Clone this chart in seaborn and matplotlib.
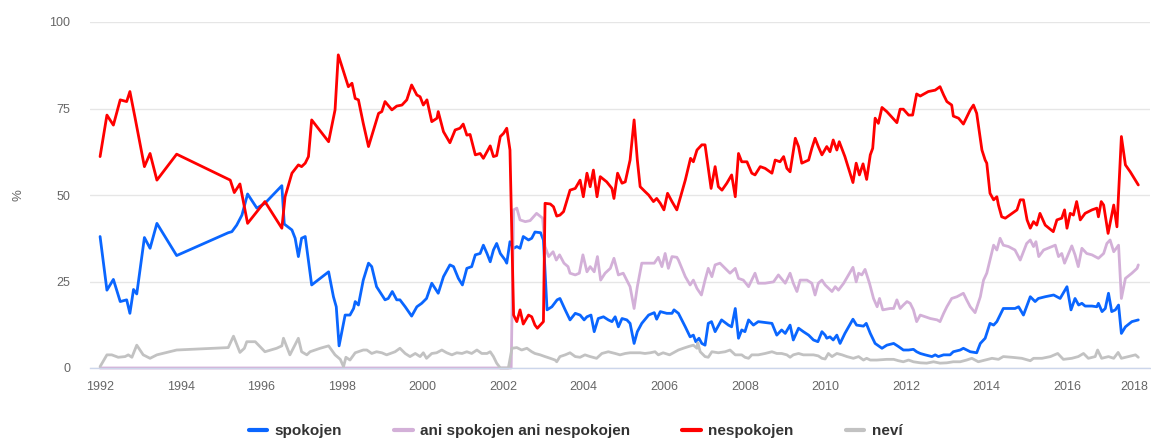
import matplotlib
matplotlib.use("Agg")
import matplotlib.pyplot as plt
import pandas as pd
import seaborn as sns

# ---------------- data (decimal years, %) ----------------
spokojen_x = [1992.00, 1992.17, 1992.33, 1992.50, 1992.66, 1992.74, 1992.83, 1992.91, 1993.10, 1993.24,
              1993.41, 1993.90, 1995.18, 1995.27, 1995.39, 1995.52, 1995.66, 1995.89, 1996.09, 1996.51,
              1996.57, 1996.76, 1996.84, 1996.92, 1997.00, 1997.09, 1997.25, 1997.67, 1997.79, 1997.86,
              1997.93, 1998.08, 1998.20, 1998.29, 1998.33, 1998.41, 1998.53, 1998.66, 1998.74, 1998.86,
              1999.07, 1999.15, 1999.25, 1999.36, 1999.44, 1999.57, 1999.73, 1999.86, 1999.98, 2000.10,
              2000.23, 2000.39, 2000.52, 2000.68, 2000.77, 2000.89, 2000.99, 2001.10, 2001.22, 2001.31,
              2001.43, 2001.51, 2001.60, 2001.68, 2001.76, 2001.84, 2001.93, 2002.05, 2002.09, 2002.17,
              2002.26, 2002.34, 2002.42, 2002.50, 2002.63, 2002.71, 2002.79, 2002.93, 2003.00, 2003.09,
              2003.21, 2003.34, 2003.41, 2003.54, 2003.66, 2003.79, 2003.91, 2004.01, 2004.08, 2004.18,
              2004.26, 2004.36, 2004.49, 2004.61, 2004.70, 2004.78, 2004.86, 2004.95, 2005.07, 2005.15,
              2005.25, 2005.33, 2005.44, 2005.61, 2005.75, 2005.81, 2005.90, 2006.06, 2006.19, 2006.24,
              2006.35, 2006.52, 2006.64, 2006.72, 2006.78, 2006.86, 2006.93, 2007.01, 2007.09, 2007.17,
              2007.26, 2007.42, 2007.59, 2007.67, 2007.76, 2007.84, 2007.92, 2008.00, 2008.09, 2008.21,
              2008.33, 2008.67, 2008.79, 2008.91, 2009.00, 2009.12, 2009.20, 2009.33, 2009.45, 2009.58,
              2009.70, 2009.81, 2009.91, 2009.99, 2010.03, 2010.11, 2010.19, 2010.28, 2010.36, 2010.48,
              2010.68, 2010.77, 2010.94, 2011.01, 2011.11, 2011.23, 2011.40, 2011.52, 2011.69, 2011.81,
              2011.93, 2012.06, 2012.18, 2012.26, 2012.35, 2012.47, 2012.64, 2012.72, 2012.80, 2012.93,
              2013.09, 2013.17, 2013.34, 2013.42, 2013.59, 2013.75, 2013.84, 2013.92, 2013.96, 2014.08,
              2014.17, 2014.25, 2014.41, 2014.54, 2014.70, 2014.79, 2014.91, 2015.08, 2015.20, 2015.28,
              2015.45, 2015.66, 2015.82, 2015.99, 2016.09, 2016.19, 2016.28, 2016.36, 2016.44, 2016.61,
              2016.73, 2016.77, 2016.86, 2016.94, 2017.02, 2017.10, 2017.19, 2017.27, 2017.34, 2017.44,
              2017.60, 2017.76]
spokojen_y = [38.0, 22.5, 25.6, 19.2, 19.7, 15.8, 22.7, 21.4, 37.7, 34.6,
              41.8, 32.5, 39.1, 39.4, 41.3, 44.2, 50.3, 46.2, 47.6, 52.7,
              41.6, 39.9, 37.5, 32.2, 37.5, 38.0, 24.0, 27.8, 20.6, 17.7,
              6.4, 15.3, 15.3, 17.2, 19.2, 18.2, 25.4, 30.3, 29.3, 23.5,
              19.7, 20.1, 22.1, 19.7, 19.7, 17.7, 15.0, 17.7, 18.7, 20.1,
              24.5, 21.6, 26.4, 29.8, 29.3, 25.9, 24.0, 28.8, 29.3, 32.7,
              33.1, 35.5, 33.1, 30.7, 34.1, 36.0, 33.1, 31.2, 30.3, 36.5,
              34.6, 35.1, 34.6, 38.0, 37.0, 37.5, 39.3, 39.1, 37.0, 16.8,
              17.7, 19.7, 20.1, 16.8, 13.9, 15.8, 15.3, 13.9, 14.8, 15.3,
              10.5, 14.3, 14.8, 13.9, 13.4, 14.8, 11.9, 14.3, 13.9, 12.9,
              7.1, 10.5, 12.9, 15.3, 16.0, 14.1, 16.3, 15.8, 15.8, 16.8,
              15.8, 11.9, 9.0, 9.5, 7.6, 8.6, 7.1, 6.6, 12.9, 13.4,
              10.5, 13.9, 12.4, 11.9, 17.2, 8.6, 11.0, 10.5, 13.9, 12.4,
              13.4, 12.9, 9.5, 11.0, 10.0, 12.4, 8.1, 11.5, 10.5, 9.5,
              8.1, 7.6, 10.5, 9.5, 8.6, 9.0, 8.1, 9.5, 7.1, 10.0,
              14.1, 12.4, 12.1, 12.9, 10.0, 7.1, 5.7, 6.6, 7.1, 6.2,
              5.2, 5.2, 5.4, 4.7, 4.2, 3.8, 3.3, 3.8, 3.3, 3.8,
              3.8, 4.7, 5.2, 5.7, 4.7, 4.4, 7.1, 8.1, 8.6, 12.9,
              12.4, 13.4, 17.2, 17.2, 17.2, 17.7, 15.3, 20.6, 19.2, 20.1,
              20.6, 21.1, 20.1, 23.5, 16.8, 20.1, 18.2, 18.7, 17.9, 17.9,
              17.7, 18.7, 16.3, 17.2, 21.6, 16.3, 16.8, 18.2, 10.0, 11.9,
              13.4, 13.9]

ani_x = [1992.00, 2002.20, 2002.26, 2002.34, 2002.42, 2002.55, 2002.67, 2002.83, 2002.98, 2003.04,
         2003.13, 2003.24, 2003.32, 2003.40, 2003.51, 2003.61, 2003.66, 2003.79, 2003.89, 2003.98,
         2004.08, 2004.16, 2004.26, 2004.34, 2004.42, 2004.53, 2004.66, 2004.75, 2004.86, 2004.98,
         2005.15, 2005.25, 2005.33, 2005.44, 2005.61, 2005.75, 2005.85, 2005.94, 2006.02, 2006.10,
         2006.19, 2006.31, 2006.35, 2006.52, 2006.64, 2006.72, 2006.81, 2006.92, 2007.01, 2007.09,
         2007.18, 2007.26, 2007.38, 2007.51, 2007.63, 2007.76, 2007.84, 2007.96, 2008.09, 2008.25,
         2008.33, 2008.50, 2008.71, 2008.83, 2009.00, 2009.12, 2009.20, 2009.29, 2009.37, 2009.54,
         2009.66, 2009.74, 2009.82, 2009.91, 2009.99, 2010.16, 2010.24, 2010.32, 2010.45, 2010.57,
         2010.68, 2010.76, 2010.82, 2010.90, 2010.98, 2011.09, 2011.19, 2011.28, 2011.34, 2011.42,
         2011.60, 2011.69, 2011.77, 2011.85, 2011.93, 2012.02, 2012.10, 2012.18, 2012.26, 2012.35,
         2012.60, 2012.77, 2012.84, 2012.93, 2013.01, 2013.13, 2013.26, 2013.42, 2013.50, 2013.59,
         2013.71, 2013.84, 2013.92, 2014.00, 2014.08, 2014.17, 2014.25, 2014.33, 2014.41, 2014.54,
         2014.70, 2014.83, 2014.99, 2015.08, 2015.16, 2015.22, 2015.29, 2015.41, 2015.62, 2015.70,
         2015.78, 2015.86, 2015.93, 2016.03, 2016.11, 2016.19, 2016.27, 2016.36, 2016.48, 2016.61,
         2016.77, 2016.90, 2016.98, 2017.06, 2017.15, 2017.27, 2017.34, 2017.44, 2017.60, 2017.73,
         2017.76]
ani_y = [0.0, 0.0, 45.7, 46.2, 42.8, 42.3, 42.6, 44.7, 43.3, 35.1,
         32.2, 33.6, 31.2, 32.7, 30.3, 29.3, 27.4, 26.9, 27.4, 32.7,
         27.8, 29.3, 27.8, 32.2, 25.4, 27.4, 28.8, 31.7, 26.9, 27.4,
         23.5, 17.2, 23.5, 30.3, 30.3, 30.3, 32.0, 29.3, 33.1, 28.8,
         32.2, 32.0, 31.2, 26.4, 24.0, 25.4, 23.0, 21.1, 25.4, 28.8,
         26.4, 29.8, 30.3, 28.8, 27.4, 28.8, 25.9, 25.4, 23.5, 27.4,
         24.5, 24.5, 24.9, 26.9, 24.5, 27.4, 24.5, 22.1, 25.4, 25.4,
         24.5, 21.1, 24.5, 25.4, 24.0, 22.1, 23.5, 22.5, 24.5, 26.9,
         29.1, 24.9, 27.4, 26.9, 28.5, 24.5, 20.1, 17.7, 20.1, 16.8,
         17.2, 17.2, 19.7, 17.2, 18.2, 19.2, 18.7, 16.8, 13.4, 15.3,
         14.3, 13.9, 13.4, 15.8, 17.7, 20.1, 20.6, 21.6, 19.7, 17.7,
         16.0, 20.6, 25.4, 27.4, 31.2, 35.5, 34.1, 37.5, 35.5, 35.1,
         34.1, 31.2, 36.0, 37.0, 35.1, 36.5, 32.2, 34.1, 35.1, 35.5,
         32.2, 33.1, 30.3, 33.1, 35.3, 32.7, 29.3, 34.6, 33.1, 32.7,
         31.7, 33.1, 36.0, 37.0, 33.6, 35.5, 20.1, 25.9, 27.4, 28.8,
         29.8]

nespokojen_x = [1992.00, 1992.17, 1992.33, 1992.50, 1992.66, 1992.74, 1992.87, 1993.10, 1993.24, 1993.41,
                1993.90, 1995.23, 1995.33, 1995.47, 1995.66, 1996.09, 1996.51, 1996.59, 1996.76, 1996.92,
                1997.00, 1997.09, 1997.17, 1997.25, 1997.67, 1997.83, 1997.91, 1998.16, 1998.25, 1998.33,
                1998.41, 1998.53, 1998.66, 1998.91, 1998.99, 1999.07, 1999.24, 1999.36, 1999.49, 1999.61,
                1999.73, 1999.86, 1999.94, 2000.02, 2000.11, 2000.23, 2000.36, 2000.39, 2000.52, 2000.68,
                2000.81, 2000.93, 2001.01, 2001.10, 2001.18, 2001.31, 2001.43, 2001.51, 2001.68, 2001.76,
                2001.84, 2001.93, 2002.01, 2002.09, 2002.17, 2002.26, 2002.34, 2002.42, 2002.50, 2002.63,
                2002.71, 2002.79, 2002.85, 2003.00, 2003.04, 2003.17, 2003.25, 2003.33, 2003.41, 2003.50,
                2003.66, 2003.79, 2003.91, 2003.99, 2004.08, 2004.16, 2004.24, 2004.33, 2004.41, 2004.57,
                2004.70, 2004.75, 2004.84, 2004.95, 2005.03, 2005.15, 2005.25, 2005.33, 2005.40, 2005.52,
                2005.61, 2005.73, 2005.81, 2005.90, 2005.99, 2006.08, 2006.19, 2006.31, 2006.52, 2006.65,
                2006.72, 2006.81, 2006.93, 2007.01, 2007.16, 2007.26, 2007.34, 2007.43, 2007.55, 2007.67,
                2007.76, 2007.84, 2007.92, 2008.05, 2008.17, 2008.25, 2008.38, 2008.50, 2008.67, 2008.75,
                2008.87, 2008.96, 2009.04, 2009.12, 2009.25, 2009.33, 2009.41, 2009.58, 2009.66, 2009.74,
                2009.82, 2009.91, 2010.03, 2010.11, 2010.19, 2010.28, 2010.34, 2010.48, 2010.57, 2010.68,
                2010.76, 2010.84, 2010.93, 2011.02, 2011.11, 2011.17, 2011.23, 2011.31, 2011.40, 2011.52,
                2011.77, 2011.85, 2011.93, 2012.06, 2012.16, 2012.26, 2012.35, 2012.55, 2012.72, 2012.84,
                2012.93, 2013.01, 2013.13, 2013.17, 2013.30, 2013.42, 2013.59, 2013.67, 2013.75, 2013.88,
                2013.96, 2014.00, 2014.08, 2014.17, 2014.25, 2014.29, 2014.37, 2014.46, 2014.75, 2014.83,
                2014.91, 2015.00, 2015.08, 2015.16, 2015.24, 2015.32, 2015.45, 2015.65, 2015.74, 2015.86,
                2015.93, 2015.99, 2016.07, 2016.15, 2016.23, 2016.32, 2016.44, 2016.61, 2016.73, 2016.77,
                2016.84, 2016.90, 2017.01, 2017.15, 2017.23, 2017.34, 2017.44, 2017.56, 2017.76]
nespokojen_y = [61.1, 73.1, 70.2, 77.5, 77.0, 79.9, 72.2, 58.2, 62.0, 54.3,
                61.8, 54.3, 50.7, 53.2, 41.8, 48.1, 40.4, 49.5, 56.3, 58.7,
                58.2, 59.2, 61.1, 71.7, 65.4, 74.6, 90.5, 81.3, 82.3, 77.9,
                77.5, 70.7, 64.0, 73.6, 74.1, 77.0, 74.6, 75.7, 76.0, 77.5,
                81.8, 78.9, 78.4, 76.0, 77.5, 71.2, 72.2, 74.1, 68.3, 65.1,
                68.8, 69.3, 70.5, 67.3, 67.5, 61.6, 62.0, 60.6, 64.2, 61.1,
                61.4, 66.9, 67.8, 69.3, 63.0, 15.3, 13.4, 16.8, 12.7, 15.3,
                14.8, 12.4, 11.5, 13.4, 47.6, 47.4, 46.6, 43.9, 44.2, 45.2,
                51.4, 51.9, 54.3, 49.5, 56.3, 52.4, 57.2, 49.5, 55.3, 53.8,
                51.9, 49.0, 56.3, 53.4, 53.8, 60.1, 71.7, 60.1, 52.4, 51.0,
                50.0, 48.1, 49.0, 47.6, 45.7, 50.5, 48.1, 45.7, 54.3, 60.6,
                59.6, 63.0, 64.5, 64.5, 51.9, 58.2, 52.4, 51.4, 53.4, 55.8,
                49.5, 62.0, 59.6, 59.6, 56.3, 55.8, 58.2, 57.7, 56.3, 60.1,
                59.6, 61.1, 57.7, 56.7, 66.4, 64.0, 59.2, 60.1, 63.5, 66.4,
                64.0, 61.6, 64.0, 62.5, 65.9, 63.0, 65.4, 61.1, 57.7, 53.6,
                59.2, 55.8, 59.0, 54.5, 61.6, 63.5, 72.2, 70.7, 75.3, 74.1,
                70.9, 74.8, 74.8, 73.1, 73.1, 79.2, 78.6, 79.9, 80.3, 81.3,
                78.9, 77.0, 76.0, 72.8, 72.2, 70.5, 74.6, 76.0, 73.6, 63.0,
                60.1, 59.2, 50.5, 48.6, 49.5, 47.1, 43.7, 43.3, 45.7, 48.6,
                48.6, 42.8, 40.4, 42.3, 41.3, 44.7, 41.3, 39.4, 42.8, 43.3,
                45.7, 40.4, 44.7, 44.2, 48.1, 42.8, 44.7, 45.7, 46.2, 43.7,
                48.1, 47.1, 38.9, 47.1, 40.8, 66.9, 58.7, 56.7, 52.9]

nevi_x = [1992.00, 1992.17, 1992.29, 1992.45, 1992.62, 1992.70, 1992.79, 1992.91, 1993.07, 1993.24,
          1993.41, 1993.90, 1995.18, 1995.31, 1995.47, 1995.58, 1995.64, 1995.85, 1996.09, 1996.38,
          1996.51, 1996.55, 1996.71, 1996.92, 1997.00, 1997.13, 1997.21, 1997.46, 1997.67, 1997.83,
          1997.96, 1998.04, 1998.10, 1998.20, 1998.33, 1998.53, 1998.62, 1998.74, 1998.86, 1998.99,
          1999.11, 1999.20, 1999.32, 1999.44, 1999.57, 1999.69, 1999.82, 1999.94, 2000.02, 2000.10,
          2000.23, 2000.35, 2000.48, 2000.60, 2000.73, 2000.85, 2000.98, 2001.10, 2001.22, 2001.35,
          2001.47, 2001.60, 2001.68, 2001.76, 2001.84, 2001.93, 2002.13, 2002.22, 2002.34, 2002.46,
          2002.59, 2002.71, 2002.79, 2002.92, 2003.04, 2003.17, 2003.29, 2003.33, 2003.41, 2003.54,
          2003.66, 2003.79, 2003.91, 2004.03, 2004.16, 2004.32, 2004.45, 2004.61, 2004.78, 2004.90,
          2005.03, 2005.15, 2005.40, 2005.52, 2005.65, 2005.77, 2005.85, 2005.97, 2006.13, 2006.27,
          2006.35, 2006.47, 2006.60, 2006.72, 2006.81, 2006.83, 2006.89, 2007.01, 2007.09, 2007.18,
          2007.34, 2007.51, 2007.63, 2007.76, 2007.92, 2008.00, 2008.09, 2008.17, 2008.33, 2008.50,
          2008.67, 2008.79, 2008.91, 2009.04, 2009.12, 2009.20, 2009.33, 2009.45, 2009.58, 2009.70,
          2009.82, 2009.91, 2009.99, 2010.07, 2010.16, 2010.28, 2010.41, 2010.53, 2010.69, 2010.82,
          2010.94, 2011.02, 2011.11, 2011.27, 2011.52, 2011.69, 2011.81, 2011.93, 2012.06, 2012.18,
          2012.35, 2012.51, 2012.68, 2012.84, 2013.01, 2013.17, 2013.34, 2013.50, 2013.63, 2013.79,
          2013.96, 2014.13, 2014.29, 2014.41, 2014.62, 2014.87, 2015.08, 2015.16, 2015.37, 2015.58,
          2015.76, 2015.90, 2016.11, 2016.27, 2016.40, 2016.52, 2016.69, 2016.75, 2016.85, 2017.02,
          2017.15, 2017.26, 2017.34, 2017.52, 2017.69, 2017.76]
nevi_y = [0.4, 3.8, 3.8, 3.1, 3.3, 3.8, 3.1, 6.6, 3.8, 2.8,
          3.8, 5.2, 5.9, 9.2, 4.5, 5.7, 7.6, 7.6, 4.7, 5.7,
          6.4, 8.6, 3.8, 8.6, 4.7, 3.8, 4.7, 5.7, 6.4, 3.8,
          2.5, 0.4, 3.1, 2.3, 4.4, 5.2, 5.2, 4.2, 4.7, 4.4,
          3.8, 4.2, 4.7, 5.7, 4.2, 3.3, 4.2, 3.3, 4.4, 2.8,
          4.2, 4.4, 5.2, 4.4, 3.8, 4.4, 4.2, 4.7, 4.2, 5.2,
          4.2, 4.2, 4.7, 3.3, 1.4, 0.0, 0.0, 5.7, 5.9, 5.2,
          5.7, 4.7, 4.2, 3.8, 3.3, 2.8, 2.3, 1.8, 3.3, 3.8,
          4.4, 3.3, 3.1, 3.8, 3.3, 2.8, 4.2, 4.7, 4.2, 3.8,
          4.2, 4.4, 4.4, 4.2, 4.4, 4.7, 3.8, 4.4, 3.8, 4.7,
          5.2, 5.7, 6.2, 6.6, 5.7, 7.3, 4.7, 3.3, 3.1, 4.7,
          4.4, 4.7, 5.2, 3.8, 3.8, 3.1, 2.8, 3.8, 3.8, 4.2,
          4.7, 4.2, 4.2, 3.8, 3.1, 3.8, 4.2, 3.8, 3.8, 3.8,
          3.5, 2.8, 2.6, 4.2, 3.3, 4.2, 3.8, 3.3, 2.8, 3.3,
          2.3, 2.8, 2.3, 2.3, 2.5, 2.5, 2.1, 1.8, 2.3, 1.8,
          1.5, 1.4, 1.8, 1.4, 1.5, 1.8, 1.8, 2.3, 2.8, 1.8,
          2.3, 2.8, 2.5, 3.3, 3.1, 2.8, 2.1, 2.8, 2.8, 3.3,
          4.2, 2.5, 2.8, 3.3, 4.2, 2.8, 3.3, 5.2, 2.8, 3.3,
          2.8, 4.5, 2.8, 3.3, 3.8, 3.1]

series_names = ["spokojen", "ani spokojen ani nespokojen", "nespokojen", "neví"]
series_colors = ["#0a66ff", "#d3b0d8", "#ff0000", "#c2c2c2"]
x_ticks = list(range(1992, 2019, 2))
y_ticks = [0, 25, 50, 75, 100]

frames = []
for name, xs, ys in zip(series_names,
                        [spokojen_x, ani_x, nespokojen_x, nevi_x],
                        [spokojen_y, ani_y, nespokojen_y, nevi_y]):
    frames.append(pd.DataFrame({"rok": xs, "hodnota": ys, "serie": name}))
df = pd.concat(frames, ignore_index=True)

# ---------------- figure ----------------
sns.set_style("white")
plt.rcParams["font.family"] = ["Liberation Sans", "DejaVu Sans"]

W, H = 1151, 441
fig = plt.figure(figsize=(W / 100, H / 100), dpi=100)
ax = fig.add_axes([90 / W, 73 / H, 1060 / W, 346 / H])

sns.lineplot(data=df, x="rok", y="hodnota", hue="serie", hue_order=series_names,
             palette=dict(zip(series_names, series_colors)), estimator=None, sort=False,
             linewidth=2.0, ax=ax)
for ln in ax.lines:
    ln.set_clip_on(False)
    ln.set_solid_joinstyle("round")

ax.set_xlim(1991.75, 2018.05)
ax.set_ylim(0, 100)
ax.set_xticks(x_ticks)
ax.set_xticklabels([str(t) for t in x_ticks])
ax.set_yticks(y_ticks)
ax.set_yticklabels([str(t) for t in y_ticks])
ax.get_xticklabels()[-1].set_horizontalalignment("right")

ax.yaxis.grid(True, color="#e6e6e6", linewidth=1)
ax.xaxis.grid(False)
ax.set_axisbelow(True)
for s in ["top", "right", "left"]:
    ax.spines[s].set_visible(False)
ax.spines["bottom"].set_color("#ccd6eb")
ax.spines["bottom"].set_linewidth(1)

ax.tick_params(axis="x", colors="#ccd6eb", length=7, width=1, pad=2, labelcolor="#666666", labelsize=9)
ax.tick_params(axis="y", length=0, pad=14, labelcolor="#666666", labelsize=9)

ax.set_xlabel("")
ax.set_ylabel("%", color="#666666", fontsize=9.5)
ax.yaxis.set_label_coords(-(90 - 24) / 1060, 0.5)

handles, labels = ax.get_legend_handles_labels()
if ax.get_legend() is not None:
    ax.get_legend().remove()
leg = fig.legend(handles, labels, loc="center", bbox_to_anchor=(0.5, 10 / H), ncol=4,
                 frameon=False, handlelength=1.2, handletextpad=0.5, columnspacing=3.4,
                 prop={"weight": "bold", "size": 11})
for t in leg.get_texts():
    t.set_color("#333333")
for lh in leg.get_lines():
    lh.set_linewidth(3)

fig.savefig("out.png", dpi=100)
